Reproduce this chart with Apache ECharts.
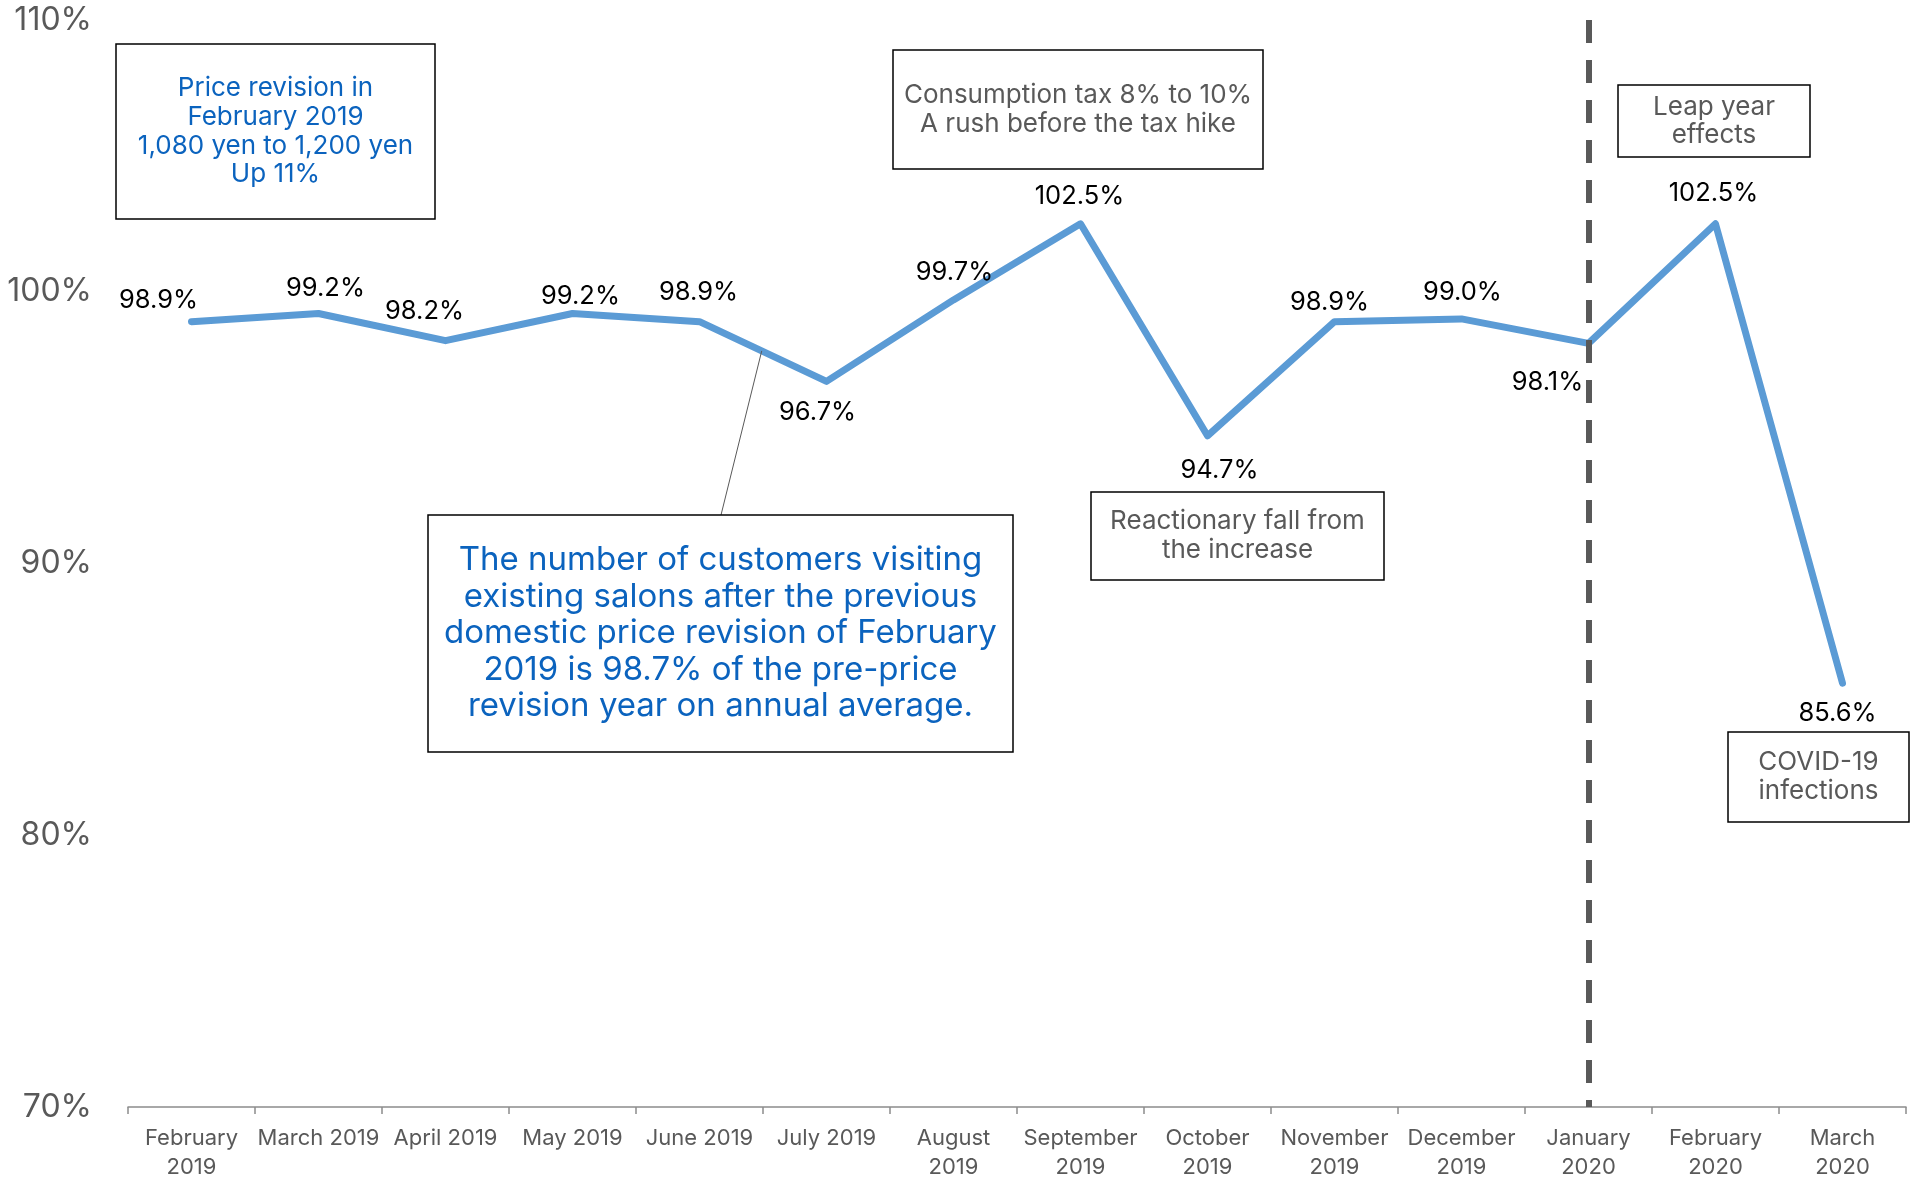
<!DOCTYPE html>
<html>
<head>
<meta charset="utf-8">
<title>Existing salon customers vs. prior year</title>
<script src="https://cdn.jsdelivr.net/npm/echarts@6/dist/echarts.min.js"></script>
<style>
  html, body { margin: 0; padding: 0; background: #fff; }
  #chart { width: 1910px; height: 1182px; }
</style>
</head>
<body>
<div id="chart"></div>
<script>
// Months shown on the category axis
const months = [
  'February\n2019', 'March 2019', 'April 2019', 'May 2019', 'June 2019', 'July 2019',
  'August\n2019', 'September\n2019', 'October\n2019', 'November\n2019', 'December\n2019',
  'January\n2020', 'February\n2020', 'March\n2020'
];

// Customers at existing salons, % of the same month one year earlier
const customerRatio = [98.9, 99.2, 98.2, 99.2, 98.9, 96.7, 99.7, 102.5, 94.7, 98.9, 99.0, 98.1, 102.5, 85.6];

// Y axis range and step (%)
const yMin = 70;
const yMax = 110;
const yStep = 10;

// Label nudges [dx, dy] around each point so the value labels clear the line
const labelNudge = [
  [-33, -21], [7, -25], [-21, -29], [8, -17], [-1, -29], [-9, 31], [1, -28],
  [-1, -27], [12, 35], [-5, -19], [1, -27], [-41, 39], [-2, -30], [-5, 30]
];

const LINE_BLUE = '#5B9BD5';
const NOTE_BLUE = '#0B63BE';
const GREY = '#595959';
const FONT = 'Inter, "Noto Sans", sans-serif';

const chart = echarts.init(document.getElementById('chart'), null, { renderer: 'canvas' });

const option = {
  animation: false,
  backgroundColor: '#ffffff',
  grid: { left: 128, right: 4, top: 20, bottom: 74 },
  xAxis: {
    type: 'category',
    data: months,
    boundaryGap: true,
    axisLine: { lineStyle: { color: '#8C8C8C', width: 1.5 } },
    axisTick: { show: true, length: 7, lineStyle: { color: '#8C8C8C', width: 1.5 } },
    axisLabel: {
      interval: 0,
      margin: 17,
      color: GREY,
      fontSize: 22,
      lineHeight: 29,
      fontFamily: FONT
    }
  },
  yAxis: {
    type: 'value',
    min: yMin,
    max: yMax,
    interval: yStep,
    axisLine: { show: false },
    axisTick: { show: false },
    splitLine: { show: false },
    axisLabel: {
      margin: 36,
      color: GREY,
      fontSize: 32,
      fontFamily: FONT,
      formatter: '{value}%'
    }
  },
  series: [{
    type: 'line',
    data: customerRatio.map((v, i) => ({
      value: v,
      label: { offset: labelNudge[i] }
    })),
    symbol: 'circle',
    symbolSize: 1,
    itemStyle: { color: LINE_BLUE },
    lineStyle: { color: LINE_BLUE, width: 7, cap: 'round', join: 'round' },
    label: {
      show: true,
      position: 'inside',
      color: '#000',
      fontSize: 25.5,
      fontFamily: FONT,
      formatter: p => p.value.toFixed(1) + '%'
    },
    // Dashed divider at January 2020, drawn top-down so the dash pattern starts at the top
    markLine: {
      silent: true,
      symbol: 'none',
      label: { show: false },
      lineStyle: { color: GREY, width: 6, type: [23, 17] },
      data: [[
        { coord: [months[11], yMax] },
        { coord: [months[11], yMin] }
      ]]
    },
    z: 3
  }]
};

chart.setOption(option);

// Framed note: a rectangle with centred multi-line text
function noteBox(x, y, w, h, text, color, size, lineH) {
  return {
    type: 'group',
    children: [
      {
        type: 'rect',
        shape: { x: x, y: y, width: w, height: h },
        style: { fill: '#fff', stroke: '#000', lineWidth: 1.5 },
        z: 10
      },
      {
        type: 'text',
        x: x + w / 2,
        y: y + h / 2,
        style: {
          text: text,
          fill: color,
          font: size + 'px ' + FONT,
          align: 'center',
          verticalAlign: 'middle',
          lineHeight: lineH
        },
        z: 11
      }
    ]
  };
}

// Leader line from the June–July segment down to the summary note
const pJun = chart.convertToPixel({ seriesIndex: 0 }, [4, customerRatio[4]]);
const pJul = chart.convertToPixel({ seriesIndex: 0 }, [5, customerRatio[5]]);
const t = 0.49;
const anchor = [pJun[0] + (pJul[0] - pJun[0]) * t, pJun[1] + (pJul[1] - pJun[1]) * t];

chart.setOption({
  graphic: [
    {
      type: 'line',
      shape: { x1: anchor[0], y1: anchor[1], x2: 721, y2: 515 },
      style: { stroke: '#595959', lineWidth: 1 },
      z: 9
    },
    noteBox(116, 44, 319, 175,
      'Price revision in\nFebruary 2019\n1,080 yen to 1,200 yen\nUp 11%', NOTE_BLUE, 26, 28.7),
    noteBox(893, 50, 370, 119,
      'Consumption tax 8% to 10%\nA rush before the tax hike', GREY, 26, 29),
    noteBox(1618, 85, 192, 72, 'Leap year\neffects', GREY, 26, 28),
    noteBox(1091, 492, 293, 88, 'Reactionary fall from\nthe increase', GREY, 26, 29),
    noteBox(1728, 732, 181, 90, 'COVID-19\ninfections', GREY, 26, 29),
    noteBox(428, 515, 585, 237,
      'The number of customers visiting\nexisting salons after the previous\ndomestic price revision of February\n2019 is 98.7% of the pre-price\nrevision year on annual average.',
      NOTE_BLUE, 33, 36.5)
  ]
});
</script>
</body>
</html>
